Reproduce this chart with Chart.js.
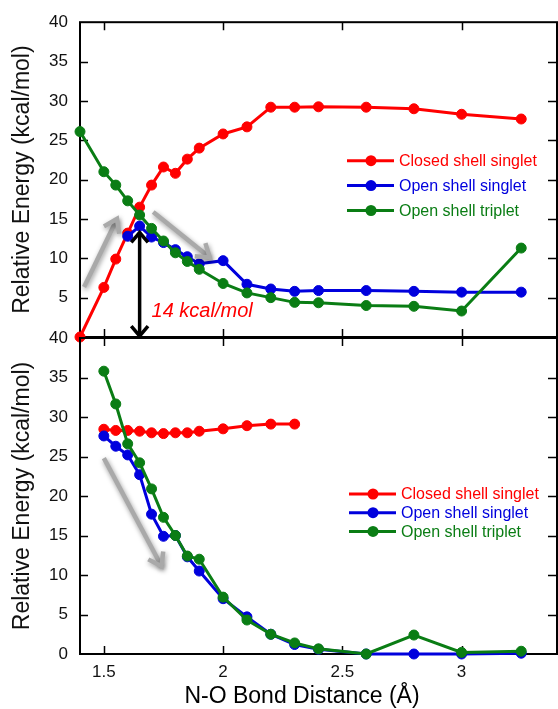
<!DOCTYPE html>
<html><head><meta charset="utf-8">
<script src="https://cdn.jsdelivr.net/npm/chart.js@4.4.1/dist/chart.umd.min.js"></script>
<style>
html,body{margin:0;padding:0;background:#fff;}
#wrap{position:relative;width:558px;height:709px;overflow:hidden;}
.cv{position:absolute;left:0;top:0;width:558px;height:709px;}
</style></head><body>
<div id="wrap">
<div class="cv"><canvas id="c1"></canvas></div>
<div class="cv"><canvas id="c2"></canvas></div>
</div>
<script>
// ---- tick labels ----
const xTicks = [1.5, 2, 2.5, 3];
const yTicks = [0, 5, 10, 15, 20, 25, 30, 35, 40];
const topYLabels = ['', '5', '10', '15', '20', '25', '30', '35', '40'];
const bottomYLabels = ['0', '5', '10', '15', '20', '25', '30', '35', '40'];
const xLabels = ['1.5', '2', '2.5', '3'];
const xTitle = 'N-O Bond Distance (\u00C5)';
const yTitle = 'Relative Energy (kcal/mol)';

// ---- series ----
const seriesNames = ['Closed shell singlet', 'Open shell singlet', 'Open shell triplet'];
const seriesColors = ['#ff0000', '#0000dd', '#0a7d14'];

// top panel
const topClosedX = [1.4, 1.5, 1.55, 1.6, 1.65, 1.7, 1.75, 1.8, 1.85, 1.9, 2.0, 2.1, 2.2, 2.3, 2.4, 2.6, 2.8, 3.0, 3.25];
const topClosedY = [0, 6.3, 9.9, 13.2, 16.5, 19.3, 21.6, 20.8, 22.6, 24.0, 25.8, 26.7, 29.2, 29.2, 29.25, 29.2, 29.0, 28.3, 27.7];
const topOpenSingX = [1.6, 1.65, 1.7, 1.75, 1.8, 1.85, 1.9, 2.0, 2.1, 2.2, 2.3, 2.4, 2.6, 2.8, 3.0, 3.25];
const topOpenSingY = [12.8, 14.1, 12.7, 12.0, 11.1, 10.2, 9.3, 9.7, 6.7, 6.1, 5.8, 5.9, 5.9, 5.8, 5.7, 5.7];
const topTripX = [1.4, 1.5, 1.55, 1.6, 1.65, 1.7, 1.75, 1.8, 1.85, 1.9, 2.0, 2.1, 2.2, 2.3, 2.4, 2.6, 2.8, 3.0, 3.25];
const topTripY = [26.1, 21.0, 19.3, 17.3, 15.5, 13.8, 12.2, 10.7, 9.6, 8.6, 6.8, 5.6, 5.0, 4.4, 4.35, 4.0, 3.9, 3.3, 11.3];

// bottom panel
const botClosedX = [1.5, 1.55, 1.6, 1.65, 1.7, 1.75, 1.8, 1.85, 1.9, 2.0, 2.1, 2.2, 2.3];
const botClosedY = [28.45, 28.3, 28.3, 28.2, 28.0, 27.9, 28.0, 28.0, 28.2, 28.5, 28.9, 29.1, 29.1];
const botOpenSingX = [1.5, 1.55, 1.6, 1.65, 1.7, 1.75, 1.8, 1.85, 1.9, 2.0, 2.1, 2.2, 2.3, 2.4, 2.6, 2.8, 3.0, 3.25];
const botOpenSingY = [27.6, 26.3, 25.2, 22.7, 17.7, 14.9, 15.0, 12.3, 10.5, 7.0, 4.7, 2.5, 1.2, 0.6, 0.0, 0.0, 0.0, 0.1];
const botTripX = [1.5, 1.55, 1.6, 1.65, 1.7, 1.75, 1.8, 1.85, 1.9, 2.0, 2.1, 2.2, 2.3, 2.4, 2.6, 2.8, 3.0, 3.25];
const botTripY = [35.8, 31.65, 26.6, 24.2, 20.9, 17.3, 15.0, 12.4, 12.0, 7.2, 4.3, 2.5, 1.4, 0.65, 0.0, 2.4, 0.2, 0.35];

// annotations (data coordinates)
const topGrayArrows = [[1.417, 6.35, 1.555, 15.0], [1.707, 15.87, 1.944, 10.1]];
const botGrayArrows = [[1.50, 24.8, 1.742, 11.1]];
const gapArrow = [1.65, 13.4, 0];
const gapText = [1.70, 2.6, '14 kcal/mol'];

const FONT = '"Liberation Sans", Arial, Helvetica, sans-serif';

function pts(xs, ys) { return xs.map((x, i) => ({x: x, y: ys[i]})); }
function ds(i, xs, ys) {
  return {
    label: seriesNames[i], data: pts(xs, ys),
    borderColor: seriesColors[i], backgroundColor: seriesColors[i],
    pointBackgroundColor: seriesColors[i], pointBorderColor: seriesColors[i],
    borderWidth: 3, pointRadius: 5, pointBorderWidth: 1, tension: 0,
    clip: false, order: 3 - i
  };
}

function arrowHead(ctx, x1, y1, x2, y2, len, ang) {
  const a = Math.atan2(y2 - y1, x2 - x1);
  ctx.beginPath();
  ctx.moveTo(x2 - len * Math.cos(a - ang), y2 - len * Math.sin(a - ang));
  ctx.lineTo(x2, y2);
  ctx.lineTo(x2 - len * Math.cos(a + ang), y2 - len * Math.sin(a + ang));
  ctx.stroke();
}

function makeDecor(cfg) {
  return {
    id: 'decor',
    beforeDatasetsDraw(chart) {
      const ctx = chart.ctx, ca = chart.chartArea, xs = chart.scales.x, ys = chart.scales.y;
      ctx.save();
      ctx.strokeStyle = '#000';
      ctx.lineWidth = 1.5;
      // tick marks inward
      xTicks.forEach(v => {
        const px = Math.round(xs.getPixelForValue(v)) + 0.5;
        ctx.beginPath();
        ctx.moveTo(px, ca.top); ctx.lineTo(px, ca.top + 8);
        ctx.moveTo(px, ca.bottom); ctx.lineTo(px, ca.bottom - 8);
        ctx.stroke();
      });
      yTicks.forEach(v => {
        if (v === 0 || v === 40) return;
        const py = Math.round(ys.getPixelForValue(v)) + 0.5;
        ctx.beginPath();
        ctx.moveTo(ca.left, py); ctx.lineTo(ca.left + 8, py);
        ctx.moveTo(ca.right, py); ctx.lineTo(ca.right - 9, py);
        ctx.stroke();
      });
      ctx.lineWidth = 2;
      ctx.strokeRect(ca.left, ca.top, ca.right - ca.left, ca.bottom - ca.top);
      ctx.restore();
    },
    afterDatasetsDraw(chart) {
      const ctx = chart.ctx, xs = chart.scales.x, ys = chart.scales.y;
      ctx.save();
      // gray arrows
      cfg.gray.forEach(a => {
        const x1 = xs.getPixelForValue(a[0]), y1 = ys.getPixelForValue(a[1]);
        const x2 = xs.getPixelForValue(a[2]), y2 = ys.getPixelForValue(a[3]);
        ctx.strokeStyle = '#a9a9a9';
        ctx.lineWidth = 4.5;
        ctx.lineCap = 'butt';
        ctx.lineJoin = 'miter';
        ctx.shadowColor = 'rgba(0,0,0,0.4)';
        ctx.shadowBlur = 5; ctx.shadowOffsetX = 1; ctx.shadowOffsetY = 2;
        ctx.beginPath(); ctx.moveTo(x1, y1); ctx.lineTo(x2, y2); ctx.stroke();
        arrowHead(ctx, x1, y1, x2, y2, 15, 0.6);
      });
      ctx.shadowColor = 'transparent'; ctx.shadowBlur = 0; ctx.shadowOffsetX = 0; ctx.shadowOffsetY = 0;
      if (cfg.gap) {
        const x = xs.getPixelForValue(gapArrow[0]);
        const yA = ys.getPixelForValue(gapArrow[1]), yB = ys.getPixelForValue(gapArrow[2]);
        ctx.strokeStyle = '#000'; ctx.lineWidth = 3.5; ctx.lineJoin = 'miter';
        ctx.beginPath(); ctx.moveTo(x, yA + 1); ctx.lineTo(x, yB - 1); ctx.stroke();
        arrowHead(ctx, x, yB, x, yA + 1, 13, 0.7);
        arrowHead(ctx, x, yA, x, yB - 1, 13, 0.7);
        ctx.fillStyle = '#ff0000';
        ctx.font = 'italic 20px ' + FONT;
        ctx.textAlign = 'left'; ctx.textBaseline = 'alphabetic';
        ctx.fillText(gapText[2], xs.getPixelForValue(gapText[0]), ys.getPixelForValue(gapText[1]));
      }
      // legend
      const L = cfg.legend;
      chart.data.datasets.forEach((d, i) => {
        const y = L.y + i * L.gap;
        ctx.strokeStyle = d.borderColor; ctx.lineWidth = 3;
        ctx.beginPath(); ctx.moveTo(L.x, y); ctx.lineTo(L.x + 47, y); ctx.stroke();
        ctx.fillStyle = d.borderColor;
        ctx.beginPath(); ctx.arc(L.x + 24, y, 5.5, 0, Math.PI * 2); ctx.fill();
        ctx.font = '16px ' + FONT;
        ctx.textAlign = 'left'; ctx.textBaseline = 'middle';
        ctx.fillText(d.label, L.x + 52, y + 1);
      });
      if (cfg.xTitle) {
        ctx.fillStyle = '#000';
        ctx.font = '23px ' + FONT;
        ctx.textAlign = 'center'; ctx.textBaseline = 'middle';
        ctx.fillText(xTitle, 302, 697);
      }
      ctx.restore();
    }
  };
}

function yScale(labels) {
  return {
    type: 'linear', min: 0, max: 40,
    afterBuildTicks: s => { s.ticks = yTicks.map(v => ({value: v})); },
    afterFit: s => { s.width = 80; },
    grid: {display: false, drawTicks: false},
    border: {display: false},
    ticks: {
      padding: 12, color: '#111',
      font: {family: FONT, size: 17},
      callback: (v) => labels[yTicks.indexOf(v)]
    },
    title: {display: true, text: yTitle, color: '#111', font: {family: FONT, size: 23}, padding: {top: 9, bottom: 0}}
  };
}

const common = {
  responsive: true, maintainAspectRatio: false, animation: false,
  plugins: {legend: {display: false}, tooltip: {enabled: false}}
};

new Chart(document.getElementById('c1'), {
  type: 'line',
  data: {datasets: [ds(0, topClosedX, topClosedY), ds(1, topOpenSingX, topOpenSingY), ds(2, topTripX, topTripY)]},
  options: Object.assign({}, common, {
    layout: {autoPadding: false, padding: {top: 22, bottom: 709 - 337, left: 0, right: 1}},
    scales: {
      x: {type: 'linear', min: 1.4, max: 3.4, display: false},
      y: yScale(topYLabels)
    }
  }),
  plugins: [makeDecor({gray: topGrayArrows, gap: true, legend: {x: 347, y: 160.7, gap: 24.9}, xTitle: false})]
});

new Chart(document.getElementById('c2'), {
  type: 'line',
  data: {datasets: [ds(0, botClosedX, botClosedY), ds(1, botOpenSingX, botOpenSingY), ds(2, botTripX, botTripY)]},
  options: Object.assign({}, common, {
    layout: {autoPadding: false, padding: {top: 338, bottom: 0, left: 0, right: 1}},
    scales: {
      x: {
        type: 'linear', min: 1.4, max: 3.4,
        afterBuildTicks: s => { s.ticks = xTicks.map(v => ({value: v})); },
        afterFit: s => { s.height = 709 - 654; },
        grid: {display: false, drawTicks: false},
        border: {display: false},
        ticks: {padding: 8, color: '#111', maxRotation: 0, font: {family: FONT, size: 17},
          callback: (v) => xLabels[xTicks.indexOf(v)]}
      },
      y: yScale(bottomYLabels)
    }
  }),
  plugins: [makeDecor({gray: botGrayArrows, gap: false, legend: {x: 349, y: 494, gap: 18.7}, xTitle: true})]
});
</script>
</body></html>
